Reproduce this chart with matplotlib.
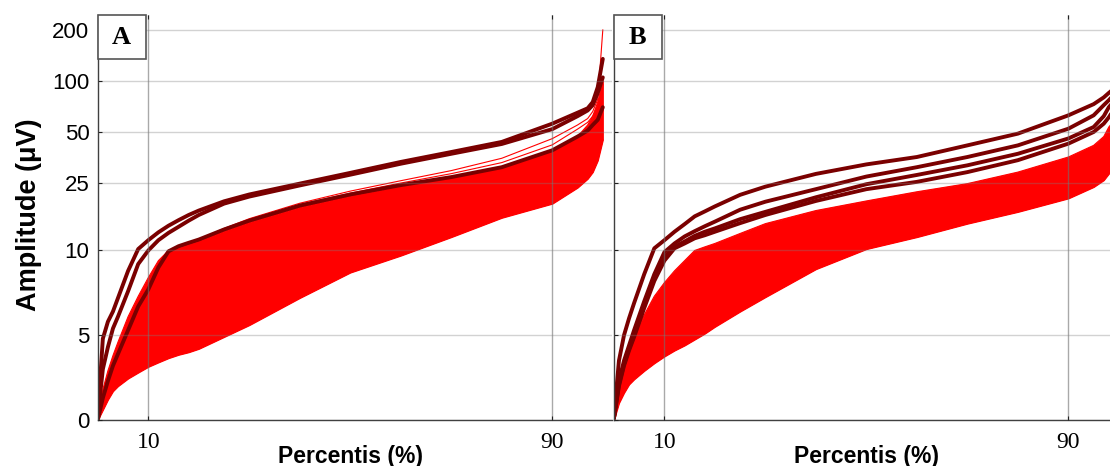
import matplotlib
matplotlib.use('Agg')
import matplotlib.pyplot as plt
from matplotlib.patches import Rectangle
from matplotlib.transforms import blended_transform_factory

# ---------------- data ----------------
pct = [0, 1, 2, 3, 4, 6, 8, 10, 12, 14, 16, 18, 20, 25, 30, 40, 50, 60, 70, 80, 90, 95, 97, 98, 99, 100]

# Panel A
a_dark1 = [0.3, 4.8, 5.8, 6.4, 7.2, 8.8, 10.2, 11.5, 12.8, 14.0, 15.1, 16.2, 17.2, 19.5, 21.4, 24.8, 28.7, 33.3, 38.1, 43.7, 56, 65, 69, 75, 92, 135]
a_dark2 = [0.2, 3.0, 4.3, 5.4, 6.1, 7.6, 9.2, 10.0, 11.5, 12.7, 13.8, 15.0, 16.2, 18.9, 20.8, 24.2, 28.0, 32.5, 37.2, 42.5, 52, 62, 67, 72, 85, 105]
a_dark3 = [0.0, 1.3, 2.3, 3.2, 3.9, 5.3, 6.7, 7.7, 9.0, 9.95, 10.6, 11.1, 11.6, 13.3, 15.0, 18.4, 21.4, 24.3, 27.1, 31, 39, 47, 51, 55, 59, 70]
a_red_upper = [0.0, 1.8, 2.9, 3.8, 4.6, 6.1, 7.3, 8.4, 9.4, 10.0, 10.4, 10.9, 11.4, 13.0, 14.7, 18.0, 21.0, 24.0, 27.0, 31.0, 39.0, 47, 55, 62, 75, 100]
a_red_lower = [0.0, 0.6, 1.2, 1.7, 2.0, 2.45, 2.8, 3.14, 3.4, 3.65, 3.85, 4.0, 4.2, 4.9, 5.6, 7.2, 8.7, 9.7, 12.0, 15.6, 18.9, 23.5, 26.5, 29, 34, 45]
a_red_stray1 = [0.0, 1.5, 2.6, 3.5, 4.3, 5.8, 7.0, 8.1, 9.2, 10.0, 10.5, 11.1, 11.6, 13.5, 15.4, 19.0, 22.4, 25.8, 29.6, 35, 45.7, 55, 60, 66, 78, 200]
a_red_stray2 = [0.0, 1.5, 2.6, 3.5, 4.3, 5.8, 7.0, 8.1, 9.2, 10.0, 10.5, 11.1, 11.6, 13.4, 15.2, 18.7, 21.8, 25.0, 28.4, 33, 42, 52, 57, 62, 70, 95]

# Panel B
b_dark1 = [0.2, 3.5, 5.0, 6.0, 6.9, 8.6, 10.3, 11.5, 12.9, 14.3, 15.9, 17.0, 18.2, 21.3, 23.8, 28.3, 32.2, 35.6, 41.7, 48.9, 62.7, 73, 80, 85, 90, 96]
b_dark2 = [0.1, 2.3, 3.5, 4.4, 5.3, 7.0, 8.6, 9.9, 11.0, 12.1, 13.0, 13.9, 14.8, 17.4, 19.4, 23.0, 27.3, 31.0, 35.6, 41.7, 52.3, 62.7, 72, 77, 83, 90]
b_dark3 = [0.1, 2.1, 3.3, 4.2, 5.0, 6.8, 8.4, 9.6, 10.5, 11.3, 12.2, 12.9, 13.5, 15.3, 16.9, 20.6, 24.6, 27.9, 31.8, 37.2, 45.8, 53.5, 62, 70, 76, 84]
b_dark4 = [0.1, 2.0, 3.2, 4.1, 4.9, 6.6, 8.2, 9.4, 10.3, 11.0, 11.8, 12.3, 12.9, 14.5, 16.2, 19.6, 23.0, 25.4, 29.0, 34.1, 42.7, 50, 56, 61, 68, 76]
b_red_upper = [0.0, 2.5, 3.6, 4.4, 5.0, 6.2, 7.3, 8.1, 8.8, 9.4, 10.0, 10.5, 11.0, 12.6, 14.4, 17.2, 19.6, 22.2, 24.8, 29.0, 35.6, 41.7, 47, 53.5, 58, 62]
b_red_lower = [0.0, 1.0, 1.6, 2.1, 2.4, 2.9, 3.35, 3.75, 4.1, 4.4, 4.75, 5.1, 5.5, 6.4, 7.25, 8.9, 10.2, 12.0, 14.4, 16.9, 20.3, 23.7, 26, 28.4, 31, 35]

yticks = [0, 5, 10, 25, 50, 100, 200]
ytick_labels = ['0', '5', '10', '25', '50', '100', '200']
xticks = [10, 90]
xtick_labels = ['10', '90']
panel_letters = ['A', 'B']

DARK = '#7a0000'
RED = '#ff0000'

W, H = 1110, 466
fig = plt.figure(figsize=(W / 100, H / 100), dpi=100)

px_per_unit = 5.05
xmax = 101.8
ax_w = xmax * px_per_unit
ax_bottom = 46
ax_height = 405
lefts = [97.8, 613.9]

axes = []
for i, left in enumerate(lefts):
    ax = fig.add_axes([left / W, ax_bottom / H, ax_w / W, ax_height / H])
    axes.append(ax)
    ax.set_yscale('symlog', linthresh=10, linscale=0.9)
    ax.set_xlim(0, xmax)
    ax.set_ylim(0, 245)
    ax.set_xticks(xticks)
    ax.set_xticklabels(xtick_labels, family='Liberation Serif', fontsize=17)
    ax.set_yticks(yticks)
    ax.minorticks_off()
    if i == 0:
        ax.set_yticklabels(ytick_labels, family='Liberation Sans', fontsize=16)
    else:
        ax.set_yticklabels([])
    ax.tick_params(axis='x', direction='in', length=3, top=True, pad=9, color='#222222')
    ax.tick_params(axis='y', direction='in', length=3, pad=6, color='#222222')
    for s in ['top', 'right']:
        ax.spines[s].set_visible(False)
    for s in ['left', 'bottom']:
        ax.spines[s].set_color('#404040')
        ax.spines[s].set_linewidth(1.0)
    ax.set_axisbelow(False)
    ax.yaxis.grid(True, color='#808080', alpha=0.35, lw=1.0)
    ax.xaxis.grid(True, color='#707070', alpha=0.6, lw=1.0)

    # letter box
    bw, bh = 48 / ax_w, 44 / ax_height
    ax.add_patch(Rectangle((0.0, 1 - bh), bw, bh, transform=ax.transAxes,
                           facecolor='white', edgecolor='#555555', lw=1.2, zorder=6, clip_on=False))
    ax.text(bw / 2, 1 - bh / 2, panel_letters[i], transform=ax.transAxes, ha='center', va='center',
            family='Liberation Serif', fontweight='bold', fontsize=19, zorder=7)

    tr = blended_transform_factory(ax.transData, ax.transAxes)
    ax.text(50, -0.09, 'Percentis (%)', transform=tr, ha='center', va='center',
            family='Liberation Sans', fontweight='bold', fontsize=16.5)

axA, axB = axes

# Panel A marks
axA.fill_between(pct, a_red_lower, a_red_upper, color=RED, lw=0.8, zorder=1.5)
for c in (a_red_upper, a_red_lower, a_red_stray1, a_red_stray2):
    axA.plot(pct, c, color=RED, lw=0.8, zorder=1.6)
for c in (a_dark3, a_dark2, a_dark1):
    axA.plot(pct, c, color=DARK, lw=2.8, zorder=2, solid_capstyle='round')

# Panel B marks
axB.fill_between(pct, b_red_lower, b_red_upper, color=RED, lw=0.8, zorder=1.5)
for c in (b_red_upper, b_red_lower):
    axB.plot(pct, c, color=RED, lw=0.8, zorder=1.6)
for c in (b_dark4, b_dark3, b_dark2, b_dark1):
    axB.plot(pct, c, color=DARK, lw=2.8, zorder=2, solid_capstyle='round')

fig.text(29 / W, 1 - 215 / H, 'Amplitude (\u03bcV)', rotation=90, ha='center', va='center',
         family='Liberation Sans', fontweight='bold', fontsize=19.5)

fig.savefig('out.png', dpi=100)
